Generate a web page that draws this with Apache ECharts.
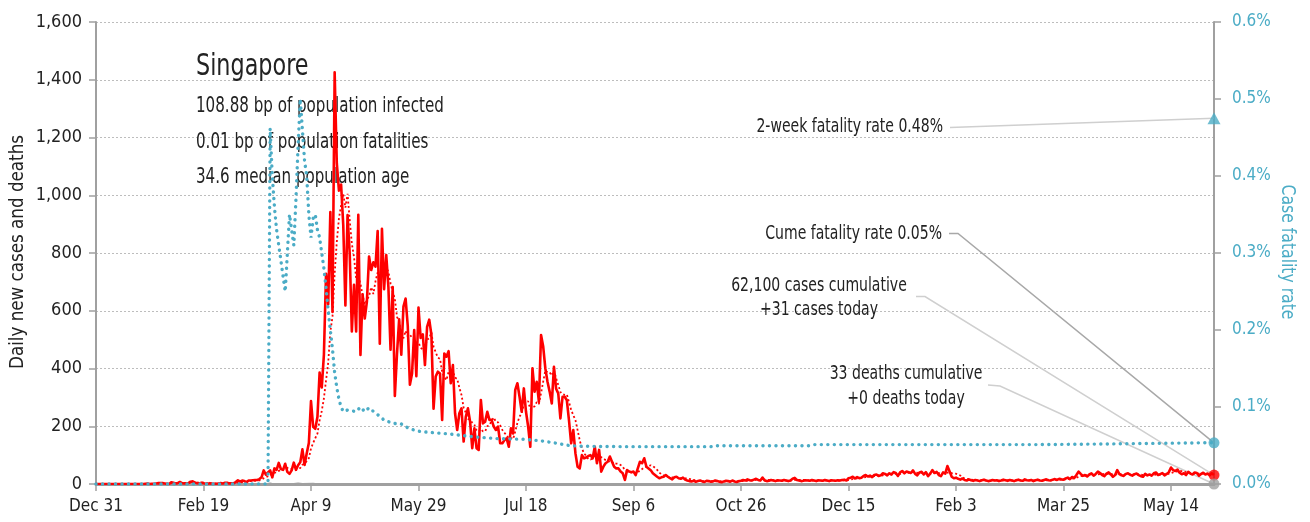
<!DOCTYPE html>
<html><head><meta charset="utf-8">
<script src="https://cdn.jsdelivr.net/npm/echarts@6/dist/echarts.min.js"></script>
<style>html,body{margin:0;padding:0;background:#fff}#c{width:1310px;height:522px}</style>
</head><body><div id="c"></div><script>
// ---------- DATA ----------
const startDateUTC = Date.UTC(2019, 11, 31); // day 0 = Dec 31, 2019
const monthNames = ['Jan','Feb','Mar','Apr','May','Jun','Jul','Aug','Sep','Oct','Nov','Dec'];

// Daily new cases, one value per day from Dec 31 2019 (day 0) to Jun 3 2021 (day 520)
const dailyCases = [
  0,
  // Jan 2020
  0,0,0,0,0,0,0,0,0,0, 0,0,0,0,0,0,0,0,0,0, 0,0,1,2,0,1,1,2,3,3, 3,
  // Feb
  2,0,0,6,4,2,3,7,3,2, 2,3,8,9,5,3,2,4,3,1, 1,3,1,1,1,2,3,2,4,
  // Mar
  4,2,2,2,7,13,8,12,10,6, 12,12,13,14,14,17,23,47,32,40, 47,23,54,49,73,52,49,70,42,35, 47,
  // Apr
  74,49,65,75,120,66,106,142,287,198, 191,233,386,334,447,728,623,942,596,1426, 1111,1016,1037,897,618,931,799,528,690,528,
  // May
  932,447,657,573,632,788,741,768,753,876, 486,884,675,793,682,465,682,305,451,570, 448,614,642,548,344,383,533,373,611,506, 518,
  // Jun
  412,544,569,517,261,372,389,383,222,452, 441,460,349,412,245,187,245,262,147,233, 262,216,124,193,124,118,291,210,216,250,
  // Jul
  222,222,199,187,199,141,141,152,158,129, 193,175,326,349,302,250,331,250,199,129, 401,320,354,285,516,476,400,354,320,279, 406,
  // Aug
  330,314,227,302,302,290,220,141,187,106, 60,54,100,89,92,97,100,89,129,72, 118,43,60,72,77,95,77,60,54,54, 43,
  // Sep
  37,14,48,43,41,43,31,54,77,72, 89,60,54,48,37,31,25,20,23,25, 31,25,20,16,23,25,20,18,22,15,
  // Oct
  12,10,9,11,8,10,12,9,7,11, 10,8,9,12,10,8,6,9,11,10, 8,12,9,7,10,11,14,12,16,13, 12,
  // Nov
  15,18,14,12,22,12,10,11,14,12, 10,13,12,11,14,12,10,12,18,21, 14,12,10,11,13,12,11,14,12,10,
  // Dec
  13,12,11,14,12,10,13,12,11,13, 12,14,15,12,20,22,25,19,24,20, 22,28,31,26,29,24,31,33,28,30, 37,
  // Jan 2021
  35,30,37,33,41,38,28,40,45,37, 43,41,38,47,35,30,40,42,33,41, 27,36,48,38,42,31,27,40,36,62, 44,
  // Feb 2021
  25,20,22,18,15,19,14,12,16,13, 11,14,12,10,13,15,12,10,11,14, 12,13,10,12,15,13,11,14,
  // Mar 2021
  12,10,13,15,12,11,16,13,12,14, 10,13,15,12,11,14,16,13,12,15, 17,14,18,16,15,19,22,17,24,21, 31,
  // Apr 2021
  43,35,28,31,26,33,37,29,35,43, 38,31,27,36,40,33,25,31,48,34, 30,28,35,37,32,29,34,36,31,27,
  // May 2021
  25,35,30,33,29,37,40,31,34,38, 30,35,41,57,48,45,50,39,34,37, 31,42,36,33,40,38,29,35,39,33, 36,
  // Jun 2021
  30,37,31
];

// Daily deaths [day, deaths] (zero between)
const dailyDeaths = [[0,0],[80,0],[81,2],[82,0],[92,0],[93,1],[94,2],[95,1],[96,0],[101,1],[102,0],[520,0]];

// Cumulative case fatality rate (%) [day, rate]
const cfrPoints = [
  [0,0],[80,0],[81,0.462],[82,0.40],[83,0.36],[84,0.33],[85,0.31],[86,0.29],[87,0.27],[88,0.25],
  [89,0.30],[90,0.35],[91,0.33],[92,0.31],[93,0.37],[94,0.44],[95,0.50],[96,0.46],[97,0.42],[98,0.40],
  [99,0.35],[100,0.32],[101,0.345],[102,0.35],[103,0.33],[104,0.32],[105,0.30],[106,0.28],[107,0.255],
  [108,0.225],[109,0.20],[110,0.175],[111,0.145],[112,0.125],[113,0.11],[114,0.10],[115,0.094],
  [117,0.096],[121,0.094],[123,0.100],[125,0.094],[127,0.099],[130,0.092],[132,0.088],[134,0.083],
  [137,0.080],[140,0.078],[142,0.078],[145,0.073],[148,0.070],[151,0.068],[160,0.066],[166,0.0645],
  [175,0.0615],[186,0.059],[200,0.058],[207,0.056],[214,0.053],[220,0.050],[226,0.049],[245,0.0485],
  [286,0.0485],[288,0.0497],[332,0.0497],[334,0.0512],[440,0.0512],[470,0.052],[500,0.053],[520,0.0537]
];

// End-of-series markers
const endDay = 520;
const twoWeekFatalityRate = 0.475;
const cumeFatalityRate = 0.0535;
const casesToday = 31;
const deathsToday = 0;

// Text
const titleText = 'Singapore';
const infoLines = ['108.88 bp of population infected', '0.01 bp of population fatalities', '34.6 median population age'];
const noteTwoWeek = '2-week fatality rate 0.48%';
const noteCume = 'Cume fatality rate 0.05%';
const noteCases = ['62,100 cases cumulative', '+31 cases today'];
const noteDeaths = ['33 deaths cumulative', '+0 deaths today'];
const leftAxisName = 'Daily new cases and deaths';
const rightAxisName = 'Case fatality rate';

// ---------- CHART ----------
const FONT = "'DejaVu Sans Condensed','Liberation Sans Narrow','DejaVu Sans',sans-serif";
const BLUE = '#4bacc6', RED = '#ff0000', AXIS = '#a0a0a0';

const rolling7 = dailyCases.map((v, i) => {
  const s = dailyCases.slice(Math.max(0, i - 6), i + 1);
  return s.reduce((a, b) => a + b, 0) / s.length;
});

function fmtDay(v) {
  const d = new Date(startDateUTC + v * 86400000);
  return monthNames[d.getUTCMonth()] + ' ' + d.getUTCDate();
}

const chart = echarts.init(document.getElementById('c'));
const option = {
  animation: false,
  textStyle: { fontFamily: FONT },
  grid: { left: 96, right: 96, top: 22, bottom: 38, containLabel: false, outerBoundsMode: 'none' },
  xAxis: {
    type: 'value', min: 0, max: endDay, interval: 50,
    axisLine: { onZero: false, lineStyle: { color: AXIS, width: 3 } },
    axisTick: { length: 7, lineStyle: { color: AXIS, width: 1.5 } },
    axisLabel: { fontSize: 17, color: '#222', margin: 14, fontFamily: FONT, formatter: fmtDay, showMaxLabel: false },
    splitLine: { show: false }
  },
  yAxis: [
    {
      type: 'value', min: 0, max: 1600, interval: 200, position: 'left',
      axisLine: { show: true, lineStyle: { color: AXIS, width: 2 } },
      axisTick: { show: true, length: 7, lineStyle: { color: AXIS, width: 1.5 } },
      axisLabel: { fontSize: 18, color: '#222', margin: 14, fontFamily: FONT, formatter: v => v.toLocaleString('en-US') },
      splitLine: { show: true, lineStyle: { color: '#bdbdbd', width: 1, type: [2, 2] } }
    },
    {
      type: 'value', min: 0, max: 0.6, interval: 0.1, position: 'right',
      axisLine: { show: true, lineStyle: { color: AXIS, width: 2 } },
      axisTick: { show: true, length: 7, lineStyle: { color: AXIS, width: 1.5 } },
      axisLabel: { fontSize: 17, color: BLUE, margin: 18, fontFamily: FONT, formatter: v => v.toFixed(1) + '%' },
      splitLine: { show: false }
    }
  ],
  series: [
    { name: 'deaths', type: 'line', yAxisIndex: 0, data: dailyDeaths, symbol: 'none',
      lineStyle: { color: AXIS, width: 2 }, z: 2 },
    { name: 'cases', type: 'line', yAxisIndex: 0, data: dailyCases.map((v, i) => [i, v]), symbol: 'none',
      lineStyle: { color: RED, width: 2.6, join: 'round' }, z: 3 },
    { name: 'cases 7d', type: 'line', yAxisIndex: 0, data: rolling7.map((v, i) => [i, v]), symbol: 'none',
      lineStyle: { color: RED, width: 1.8, type: [2, 2.4] }, z: 3 },
    { name: 'cfr', type: 'line', yAxisIndex: 1, data: cfrPoints, symbol: 'none',
      lineStyle: { color: BLUE, width: 3.4, type: [0.1, 6.4], cap: 'round' }, z: 4 },
    { name: 'twoWeek', type: 'scatter', yAxisIndex: 1, data: [[endDay, twoWeekFatalityRate]], symbol: 'triangle',
      symbolSize: [13, 12], itemStyle: { color: BLUE }, z: 6, clip: false },
    { name: 'cume', type: 'scatter', yAxisIndex: 1, data: [[endDay, cumeFatalityRate]], symbol: 'circle',
      symbolSize: 11, itemStyle: { color: BLUE }, z: 6, clip: false },
    { name: 'casesToday', type: 'scatter', yAxisIndex: 0, data: [[endDay, casesToday]], symbol: 'circle',
      symbolSize: 11, itemStyle: { color: RED }, z: 6, clip: false },
    { name: 'deathsToday', type: 'scatter', yAxisIndex: 0, data: [[endDay, deathsToday]], symbol: 'circle',
      symbolSize: 11, itemStyle: { color: AXIS }, z: 6, clip: false }
  ]
};
chart.setOption(option);

const pTri = chart.convertToPixel({ seriesIndex: 4 }, [endDay, twoWeekFatalityRate]);
const pCume = chart.convertToPixel({ seriesIndex: 5 }, [endDay, cumeFatalityRate]);
const pCases = chart.convertToPixel({ seriesIndex: 6 }, [endDay, casesToday]);
const pDeaths = chart.convertToPixel({ seriesIndex: 7 }, [endDay, deathsToday]);

// condensed text: horizontal scale applied to a regular font
function txt(text, x, y, size, align, sx, color, rot) {
  return { type: 'text', x: x, y: y, rotation: rot || 0, scaleX: sx, scaleY: 1, z: 1, silent: true,
    style: { text: text, fill: color || '#222', font: size + 'px ' + FONT, align: align, verticalAlign: 'middle' } };
}
function line(points, color) {
  return { type: 'polyline', z: 1, silent: true, shape: { points: points },
    style: { stroke: color, lineWidth: 1.5, fill: null } };
}

chart.setOption({
  graphic: [
    line([[950, 127.5], pTri], '#cfcfcf'),
    line([[949, 233.5], [958, 233.5], pCume], '#a8a8a8'),
    line([[916, 296.5], [925, 296.5], pCases], '#cfcfcf'),
    line([[988, 385], [1000, 386], pDeaths], '#cfcfcf'),
    txt(titleText, 196, 67, 31, 'left', 0.8),
    txt(infoLines[0], 196, 107, 21, 'left', 0.8),
    txt(infoLines[1], 196, 143, 21, 'left', 0.8),
    txt(infoLines[2], 196, 178, 21, 'left', 0.8),
    txt(noteTwoWeek, 943, 127, 20, 'right', 0.78),
    txt(noteCume, 942, 234, 20, 'right', 0.78),
    txt(noteCases[0], 819, 286, 20, 'center', 0.78),
    txt(noteCases[1], 819, 310, 20, 'center', 0.78),
    txt(noteDeaths[0], 906, 374, 20, 'center', 0.78),
    txt(noteDeaths[1], 906, 399, 20, 'center', 0.78),
    txt(leftAxisName, 18, 252, 20, 'center', 0.93, '#222', Math.PI / 2),
    txt(rightAxisName, 1287, 252, 20, 'center', 0.87, BLUE, -Math.PI / 2)
  ]
});
</script></body></html>
